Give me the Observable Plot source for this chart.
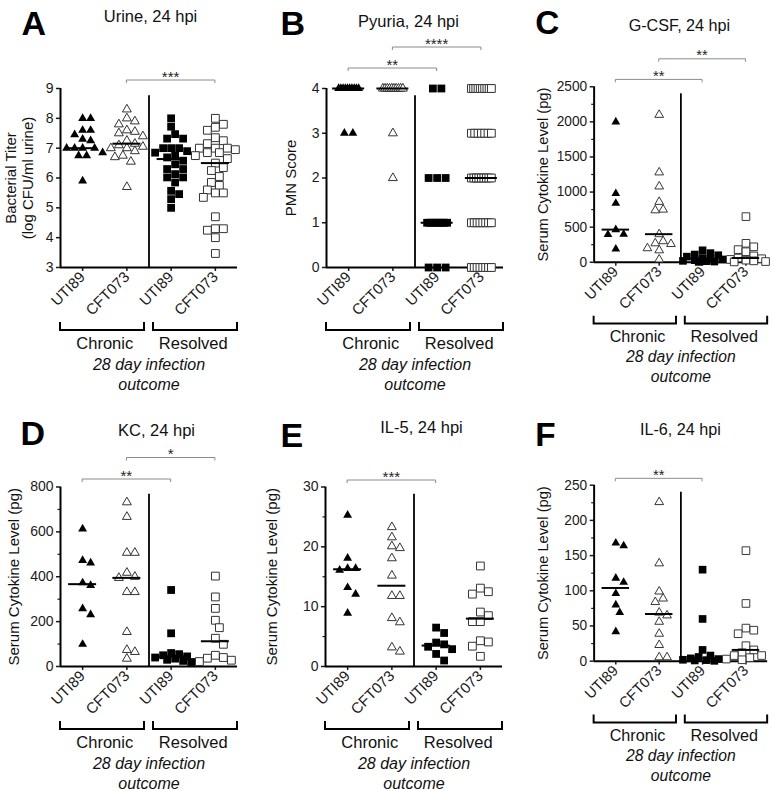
<!DOCTYPE html>
<html><head><meta charset="utf-8">
<script src="https://cdn.jsdelivr.net/npm/d3@7"></script>
<script src="https://cdn.jsdelivr.net/npm/@observablehq/plot@0.6"></script>
<style>
body{margin:0;background:#fff;}
#fig{position:relative;width:775px;height:791px;overflow:hidden;font-family:"Liberation Sans",Arial,sans-serif;}
#fig > div{position:absolute;}
</style></head><body><div id="fig"></div>
<script>
// ---------- categories & labels ----------
const strains = ["UTI89", "CFT073", "UTI89", "CFT073"];
const outcomes = ["Chronic", "Resolved"];
const outcomeCaption = "28 day infection\noutcome";
const letters = ["A", "B", "C", "D", "E", "F"];
const titles = ["Urine, 24 hpi", "Pyuria, 24 hpi", "G-CSF, 24 hpi", "KC, 24 hpi", "IL-5, 24 hpi", "IL-6, 24 hpi"];
const yLabels = ["Bacterial Titer\n(log CFU/ml urine)", "PMN Score", "Serum Cytokine Level (pg)",
                 "Serum Cytokine Level (pg)", "Serum Cytokine Level (pg)", "Serum Cytokine Level (pg)"];

// ---------- A: urine bacterial titer ----------
const urineChronicUTI89 = [8.0, 8.0, 7.6, 7.6, 7.45, 7.3, 7.25, 7.0, 7.0, 7.0, 7.0, 6.85, 6.75, 6.75, 5.9];
const urineChronicCFT073 = [8.3, 8.0, 7.9, 7.8, 7.6, 7.55, 7.5, 7.4, 7.25, 7.15, 7.1, 7.05, 7.0, 7.0, 6.9, 6.75, 6.7, 6.55, 5.7];
const urineResolvedUTI89 = [8.0, 7.72, 7.47, 7.32, 7.32, 7.0, 7.0, 7.0, 6.9, 6.85, 6.75, 6.69, 6.58, 6.46, 6.3, 6.3, 6.13, 6.02, 6.02, 5.85, 5.57, 5.46, 5.29, 5.0];
const urineResolvedCFT073 = [8.0, 7.8, 7.7, 7.6, 7.35, 7.25, 7.15, 7.0, 7.0, 7.0, 6.95, 6.85, 6.85, 6.75, 6.65, 6.5, 6.35, 6.25, 6.05, 5.85, 5.75, 5.6, 5.5, 5.5, 5.35, 4.7, 4.3, 4.3, 4.25, 4.0, 3.47];
const urineSig = [{from: 1, to: 3, label: "***"}];

// ---------- B: pyuria PMN score ----------
const pyuriaChronicUTI89 = [4, 4, 4, 4, 4, 4, 4, 4, 4, 4, 3, 3];
const pyuriaChronicCFT073 = [4, 4, 4, 4, 4, 4, 4, 4, 4, 4, 3, 2];
const pyuriaResolvedUTI89 = [4, 4, 2, 2, 2, 1, 1, 1, 1, 1, 1, 1, 1, 0, 0, 0];
const pyuriaResolvedCFT073 = [4, 4, 4, 4, 4, 4, 4, 4, 4, 4, 3, 3, 3, 3, 3, 3, 3, 2, 2, 2, 2, 2, 2, 2, 2, 2, 1, 1, 1, 1, 1, 1, 1, 1, 0, 0, 0, 0, 0, 0, 0, 0];
const pyuriaSig = [{from: 0, to: 2, label: "**"}, {from: 1, to: 3, label: "****"}];

// ---------- C: G-CSF ----------
const gcsfChronicUTI89 = [2000, 980, 840, 465, 400, 395, 190];
const gcsfChronicCFT073 = [2100, 1280, 1080, 860, 750, 740, 400, 300, 270, 260, 200, 170, 40];
const gcsfResolvedUTI89 = [170, 130, 110, 100, 80, 60, 50, 40, 30, 20, 15, 10, 5];
const gcsfResolvedCFT073 = [650, 270, 220, 180, 150, 90, 60, 50, 40, 30, 20, 10, 5];
const gcsfSig = [{from: 0, to: 2, label: "**"}, {from: 1, to: 3, label: "**"}];

// ---------- D: KC ----------
const kcChronicUTI89 = [613, 473, 462, 373, 361, 258, 231, 99];
const kcChronicCFT073 = [732, 667, 507, 507, 418, 400, 395, 332, 332, 154, 74, 65, 35];
const kcResolvedUTI89 = [341, 148, 60, 55, 50, 45, 40, 35, 30, 25, 20];
const kcResolvedCFT073 = [403, 310, 259, 206, 173, 126, 99, 50, 40, 37, 28, 22];
const kcSig = [{from: 0, to: 2, label: "**"}, {from: 1, to: 3, label: "*"}];

// ---------- E: IL-5 ----------
const il5ChronicUTI89 = [25.3, 18.1, 16.4, 16.4, 16.1, 13.2, 12.1, 8.9];
const il5ChronicCFT073 = [23.3, 21.6, 20.1, 19.8, 18.1, 15.2, 11.8, 11.8, 8.1, 7.4, 3.2, 2.5];
const il5ResolvedUTI89 = [6.5, 5.6, 4.0, 3.7, 3.3, 2.9, 2.1, 1.0];
const il5ResolvedCFT073 = [16.8, 13.1, 12.5, 12.1, 9.1, 8.5, 7.5, 7.5, 4.3, 4.1, 3.4, 1.7];
const il5Sig = [{from: 0, to: 2, label: "***"}];

// ---------- F: IL-6 ----------
const il6ChronicUTI89 = [168, 164, 118, 112, 96, 80, 69, 42];
const il6ChronicCFT073 = [226, 139, 99, 89, 84, 69, 65, 56, 39, 23, 5.6, 5.6];
const il6ResolvedUTI89 = [130, 60, 16, 8, 6, 4, 3, 2, 1.5, 1, 0.5];
const il6ResolvedCFT073 = [157, 82, 47, 44, 39, 22, 16, 12, 8, 8, 5, 3, 2];
const il6Sig = [{from: 0, to: 2, label: "**"}];

// ---------- panel definitions ----------
const panels = [
  {series: [urineChronicUTI89, urineChronicCFT073, urineResolvedUTI89, urineResolvedCFT073], yDomain: [3, 9], step: 1, minor: null, sig: urineSig, layout: "swarm"},
  {series: [pyuriaChronicUTI89, pyuriaChronicCFT073, pyuriaResolvedUTI89, pyuriaResolvedCFT073], yDomain: [0, 4], step: 1, minor: null, sig: pyuriaSig, layout: "rows"},
  {series: [gcsfChronicUTI89, gcsfChronicCFT073, gcsfResolvedUTI89, gcsfResolvedCFT073], yDomain: [0, 2500], step: 500, minor: 250, sig: gcsfSig, layout: "swarm"},
  {series: [kcChronicUTI89, kcChronicCFT073, kcResolvedUTI89, kcResolvedCFT073], yDomain: [0, 800], step: 200, minor: 100, sig: kcSig, layout: "swarm"},
  {series: [il5ChronicUTI89, il5ChronicCFT073, il5ResolvedUTI89, il5ResolvedCFT073], yDomain: [0, 30], step: 10, minor: 5, sig: il5Sig, layout: "swarm"},
  {series: [il6ChronicUTI89, il6ChronicCFT073, il6ResolvedUTI89, il6ResolvedCFT073], yDomain: [0, 250], step: 50, minor: 25, sig: il6Sig, layout: "swarm"}
];

// ---------- layout (page positions) ----------
const AXW = 177;
const rowsL = [
  {svgTop: 0, h: 392, mt: 88, mb: 125},
  {svgTop: 395, h: 396, mt: 91.5, mb: 125}
];
const layouts = [
  {axis: 60, ml: 60, row: 0, letterX: 21, letterTop: 10, titleX: 150, titleTop: 10, yLabX: 18.5, sigOff: [8]},
  {axis: 326, ml: 60, row: 0, letterX: 280, letterTop: 10, titleX: 408, titleTop: 15, yLabX: 290, sigOff: [20, 41]},
  {axis: 595, ml: 70, row: 0, letterX: 535, letterTop: 10, titleX: 682, titleTop: 19, yLabX: 542, sigOff: [7, 28]},
  {axis: 60, ml: 60, row: 1, letterX: 20, letterTop: 420, titleX: 156, titleTop: 424, yLabX: 13, sigOff: [7.5, 29]},
  {axis: 325, ml: 70, row: 1, letterX: 280, letterTop: 422, titleX: 421, titleTop: 421, yLabX: 271, sigOff: [6.5]},
  {axis: 595, ml: 70, row: 1, letterX: 535, letterTop: 422, titleX: 683, titleTop: 424, yLabX: 542, sigOff: [6.5]}
];

// horizontal spreading of points (beeswarm)
function swarm(vals, ypx, diam, maxHalf) {
  const order = d3.range(vals.length).sort((a, b) => d3.descending(vals[a], vals[b]));
  const placed = [], off = new Array(vals.length);
  const stepPx = diam / 2;
  const nC = Math.floor(maxHalf / stepPx) * 2 + 1;
  for (const i of order) {
    const py = ypx(vals[i]);
    let best = 0, bestD = -Infinity;
    for (let k = 0; k < nC; k++) {
      const c = (k % 2 ? 1 : -1) * Math.ceil(k / 2) * stepPx;
      let minD = Infinity;
      for (const p of placed) minD = Math.min(minD, Math.hypot(c - p.x, py - p.y));
      if (minD >= diam) { best = c; bestD = Infinity; break; }
      if (minD > bestD) { bestD = minD; best = c; }
    }
    placed.push({x: best, y: py});
    off[i] = best;
  }
  return off;
}
function rowLayout(vals) {
  const groups = d3.group(d3.range(vals.length), i => vals[i]);
  const off = new Array(vals.length);
  for (const [, idx] of groups) {
    const n = idx.length;
    const spread = Math.min((n - 1) * 8.5, 20);
    idx.forEach((i, k) => off[i] = n === 1 ? 0 : -spread / 2 + k * spread / (n - 1));
  }
  return off;
}

const fig = document.getElementById("fig");
const FONT = '"Liberation Sans", Arial, Helvetica, sans-serif';

panels.forEach((p, pi) => {
  const L = layouts[pi], R = rowsL[L.row];
  const width = L.ml + AXW + 8;
  const spacing = AXW / 4;
  const [y0, y1] = p.yDomain;
  const ypx = d3.scaleLinear(p.yDomain, [R.h - R.mb, R.mt]);
  const pts = [];
  p.series.forEach((vals, g) => {
    const off = p.layout === "rows" ? rowLayout(vals) : swarm(vals, ypx, 8, 20);
    vals.forEach((v, i) => pts.push({g, v, x: g + off[i] / spacing}));
  });
  const medians = p.series.map((vals, g) => ({g, m: d3.median(vals)}));
  const half = (p.layout === "rows" ? 16 : 14) / spacing;
  const majors = d3.range(y0, y1 + p.step / 2, p.step);
  const minors = p.minor ? d3.range(y0, y1 + p.minor / 2, p.minor).filter(v => !majors.includes(v)) : [];

  const annot = (index, scales, values, dims) => {
    const x = scales.x;
    const g = d3.create("svg:g").attr("fill", "none");
    const yb = dims.height - dims.marginBottom;
    const yt = dims.marginTop;
    const mid = x(1.5);
    [[x(-0.5), mid - 4.5], [mid + 4.5, x(3.5)]].forEach(([a, b]) =>
      g.append("path").attr("d", `M${a},${yb + 55}V${yb + 63}H${b}V${yb + 55}`)
        .attr("stroke", "#000").attr("stroke-width", 2));
    p.sig.forEach((s, k) => {
      const y = yt - L.sigOff[k];
      g.append("path").attr("d", `M${x(s.from)},${y + 3}V${y}H${x(s.to)}V${y + 3}`)
        .attr("stroke", "#8a8a8a").attr("stroke-width", 1);
      g.append("text").attr("x", (x(s.from) + x(s.to)) / 2).attr("y", y + 1.5)
        .attr("text-anchor", "middle").attr("fill", "#222").attr("font-size", 15).text(s.label);
    });
    return g.node();
  };

  const chart = Plot.plot({
    width, height: R.h,
    marginLeft: L.ml, marginRight: 8, marginTop: R.mt, marginBottom: R.mb,
    x: {domain: [-0.5, 3.5]},
    y: {domain: p.yDomain},
    style: {background: "transparent", fontFamily: FONT, color: "#1a1a1a", overflow: "visible"},
    marks: [
      Plot.axisY({ticks: majors, tickFormat: d3.format("d"), tickSize: 4, tickPadding: 3, fontSize: 14, strokeWidth: 1.5, label: null}),
      minors.length ? Plot.axisY({ticks: minors, tickFormat: () => "", tickSize: 2.5, strokeWidth: 1.2, label: null}) : null,
      Plot.axisX({ticks: [0, 1, 2, 3], tickFormat: i => strains[i], tickRotate: -45, tickSize: 4, tickPadding: 3, fontSize: 15, strokeWidth: 1.5, label: null}),
      Plot.ruleX([1.5], {y1: y0, y2: y0 + 0.96 * (y1 - y0), strokeWidth: 1.8, stroke: "#000"}),
      Plot.ruleY([y0], {strokeWidth: 2, stroke: "#000"}),
      Plot.ruleX([-0.5], {strokeWidth: 2, stroke: "#000"}),
      Plot.dot(pts.filter(d => d.g === 0), {x: "x", y: "v", symbol: "triangle", r: 3.3, fill: "#000"}),
      Plot.dot(pts.filter(d => d.g === 1), {x: "x", y: "v", symbol: "triangle", r: 3.3, fill: "#fff", stroke: "#333", strokeWidth: 1}),
      Plot.dot(pts.filter(d => d.g === 2), {x: "x", y: "v", symbol: "square", r: 4.4, fill: "#000"}),
      Plot.dot(pts.filter(d => d.g === 3), {x: "x", y: "v", symbol: "square", r: 4.4, fill: "#fff", stroke: "#333", strokeWidth: 1}),
      Plot.ruleY(medians, {y: "m", x1: d => d.g - half, x2: d => d.g + half, strokeWidth: 2, stroke: "#000"}),
      Plot.text([yLabels[pi]], {frameAnchor: "left", dx: L.yLabX - L.axis, rotate: -90, textAnchor: "middle", lineAnchor: "middle", fontSize: 15, lineHeight: 1.15, fill: "#111"}),
      Plot.text([letters[pi]], {frameAnchor: "top-left", dx: L.letterX - L.axis, dy: L.letterTop - (R.svgTop + R.mt), textAnchor: "start", lineAnchor: "top", fontSize: 34, fontWeight: "bold", fill: "#000"}),
      Plot.text([titles[pi]], {frameAnchor: "top-left", dx: L.titleX - L.axis, dy: L.titleTop - (R.svgTop + R.mt), textAnchor: "middle", lineAnchor: "top", fontSize: 16.5, fill: "#111"}),
      Plot.text(outcomes, {x: (d, i) => 2 * i + 0.5, frameAnchor: "bottom", dy: 70, lineAnchor: "top", fontSize: 16.5, fill: "#111"}),
      Plot.text([outcomeCaption], {x: () => 1.5, frameAnchor: "bottom", dy: 88, lineAnchor: "top", fontSize: 16, fontStyle: "italic", lineHeight: 1.25, fill: "#111"}),
      annot
    ]
  });
  const holder = document.createElement("div");
  holder.style.left = (L.axis - L.ml) + "px";
  holder.style.top = R.svgTop + "px";
  holder.appendChild(chart);
  fig.appendChild(holder);
});
</script></body></html>
